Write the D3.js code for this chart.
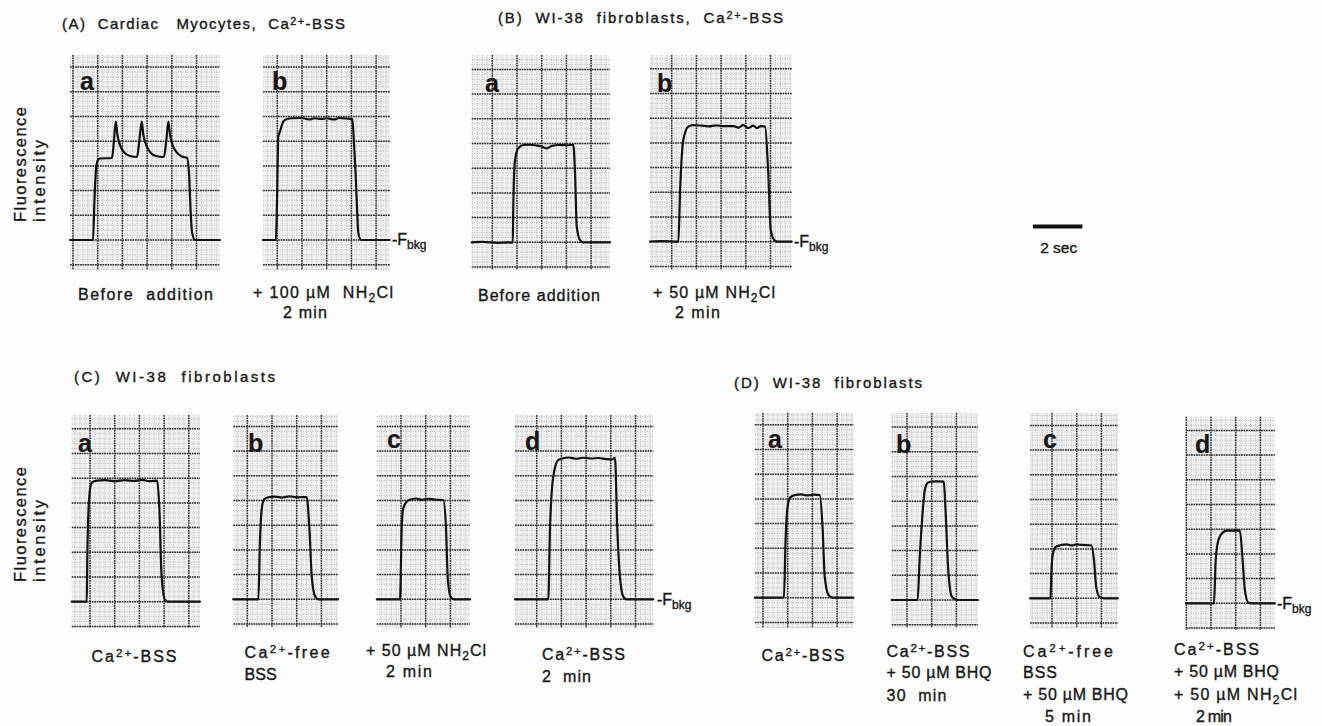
<!DOCTYPE html>
<html>
<head>
<meta charset="utf-8">
<script src="https://cdn.jsdelivr.net/npm/d3@7"></script>
<style>
  html, body { margin: 0; padding: 0; background: #fff; }
  svg { display: block; font-family: "Liberation Sans", Arial, Helvetica, sans-serif; }
  text { white-space: pre; fill: #161616; stroke: #161616; stroke-width: 0.35px; }
</style>
</head>
<body>
<div id="chart"></div>
<script>
const WIDTH = 1322;
const HEIGHT = 726;
const DIV = 24.7; // px per major chart-paper division (1 s across, 1 unit up)

// Recorder traces: [time (s) from first major line, fluorescence above Fbkg (divisions)]
const traceAa = [[-0.12,0],[0.81,0],[0.87,1.62],[0.93,2.83],[1.01,3.24],[1.09,3.30],[1.58,3.32],[1.66,4.05],[1.73,4.79],[1.80,4.25],[1.90,3.85],[2.06,3.56],[2.31,3.40],[2.59,3.36],[2.69,4.05],[2.78,4.79],[2.85,4.25],[2.96,3.85],[3.12,3.56],[3.36,3.40],[3.68,3.36],[3.78,4.05],[3.86,4.79],[3.93,4.25],[4.03,3.85],[4.19,3.56],[4.41,3.38],[4.62,3.32],[4.70,2.63],[4.76,1.21],[4.82,0.32],[4.94,0],[5.95,0]];
const traceAb = [[-0.58,0],[-0.06,0],[-0.01,1.62],[0.04,4.18],[0.11,4.40],[0.24,4.79],[0.39,4.90],[0.6,4.93],[1.0,4.94],[1.3,4.88],[1.5,4.93],[1.8,4.90],[2.0,4.93],[2.3,4.88],[2.5,4.94],[2.8,4.92],[3.04,4.90],[3.10,4.0],[3.17,2.71],[3.24,1.0],[3.28,0.3],[3.39,0],[4.56,0]];
const traceBa = [[-0.83,0],[-0.4,0.02],[0.2,-0.02],[0.83,0],[0.85,1.44],[0.92,3.33],[1.05,3.81],[1.26,3.94],[1.5,3.95],[1.8,3.92],[2.0,3.88],[2.2,3.80],[2.4,3.90],[2.7,3.94],[3.0,3.93],[3.28,3.95],[3.35,2.79],[3.42,0.63],[3.55,0.09],[3.68,0],[4.77,0]];
const traceBb = [[-0.88,0],[-0.4,0.02],[0.27,0],[0.34,2.09],[0.47,4.12],[0.67,4.66],[0.87,4.72],[1.2,4.70],[1.5,4.67],[1.8,4.71],[2.1,4.68],[2.5,4.68],[2.7,4.62],[2.9,4.72],[3.1,4.60],[3.3,4.70],[3.45,4.60],[3.6,4.68],[3.78,4.66],[3.91,2.77],[4.01,0.47],[4.18,0.04],[4.3,0],[4.86,0]];
const traceCa = [[-0.74,0],[-0.13,0],[-0.11,1.69],[-0.03,4.25],[0.07,4.82],[0.27,4.90],[0.6,4.92],[1.0,4.88],[1.4,4.92],[1.8,4.89],[2.1,4.93],[2.4,4.88],[2.72,4.90],[2.81,3.71],[2.9,1.01],[3.04,0.07],[3.17,0],[4.45,0]];
const traceCb = [[-0.57,0],[0.45,0],[0.51,2.27],[0.58,3.62],[0.68,4.05],[0.85,4.13],[1.1,4.16],[1.4,4.12],[1.7,4.17],[2.0,4.13],[2.4,4.14],[2.51,2.94],[2.61,0.92],[2.74,0.13],[2.87,0],[3.68,0]];
const traceCc = [[-0.98,0],[-0.04,0],[0.03,2.94],[0.09,3.68],[0.23,3.95],[0.43,4.05],[0.6,4.08],[0.85,4.03],[1.1,4.07],[1.35,4.04],[1.71,4.02],[1.82,2.94],[1.89,0.92],[2.01,0.1],[2.16,0],[2.8,0]];
const traceCd = [[-0.88,0],[0.47,0],[0.54,2.94],[0.67,4.96],[0.87,5.64],[1.08,5.71],[1.3,5.74],[1.6,5.69],[1.9,5.73],[2.2,5.70],[2.5,5.72],[2.8,5.68],[3.05,5.66],[3.17,5.73],[3.26,2.94],[3.37,0.92],[3.51,0.1],[3.64,0],[4.72,0]];
const traceDa = [[-0.33,0],[0.85,0],[0.91,2.2],[0.98,3.55],[1.10,4.06],[1.33,4.16],[1.55,4.18],[1.8,4.14],[2.05,4.17],[2.30,4.15],[2.41,2.87],[2.5,0.85],[2.65,0.11],[2.83,0],[3.66,0]];
const traceDb = [[-0.62,0],[0.43,0],[0.51,1.62],[0.62,3.37],[0.72,4.45],[0.84,4.75],[0.99,4.79],[1.2,4.80],[1.49,4.79],[1.56,3.64],[1.67,1.21],[1.82,0.13],[2.04,0],[2.87,0]];
const traceDc = [[-0.89,0],[-0.06,0],[-0.02,1.15],[0.04,1.82],[0.16,2.09],[0.39,2.16],[0.6,2.18],[0.8,2.14],[1.0,2.18],[1.2,2.16],[1.59,2.14],[1.70,1.55],[1.79,0.47],[1.94,0.04],[2.12,0],[2.67,0]];
const traceDd = [[-1.01,0],[0.12,0],[0.19,1.75],[0.30,2.56],[0.47,2.86],[0.65,2.94],[1.17,2.94],[1.28,1.75],[1.37,0.54],[1.52,0.02],[1.70,0],[2.59,0]];

// caption lines ("^{}" superscript, "_{}" subscript)
const captionAa = ["Before  addition"];
const captionAb = ["+ 100 µM  NH_{2}Cl", "2 min"];
const captionBa = ["Before addition"];
const captionBb = ["+ 50 µM NH_{2}Cl", "2 min"];
const captionCa = ["Ca^{2+}-BSS"];
const captionCb = ["Ca^{2+}-free", "BSS"];
const captionCc = ["+ 50 µM NH_{2}Cl", "2 min"];
const captionCd = ["Ca^{2+}-BSS", "2  min"];
const captionDa = ["Ca^{2+}-BSS"];
const captionDb = ["Ca^{2+}-BSS", "+ 50 µM BHQ", "30  min"];
const captionDc = ["Ca^{2+}-free", "BSS", "+ 50 µM BHQ", "5 min"];
const captionDd = ["Ca^{2+}-BSS", "+ 50 µM BHQ", "+ 50 µM NH_{2}Cl", "2 min"];

const sectionTitles = [
  "(A)  Cardiac   Myocytes,  Ca^{2+}-BSS",
  "(B)  WI-38  fibroblasts,  Ca^{2+}-BSS",
  "(C)  WI-38  fibroblasts",
  "(D)  WI-38  fibroblasts",
];
const axisLabelLines = ["Fluorescence", "intensity"];
const bkgLabel = "-F_{bkg}";
const scaleBarSeconds = 2;
const scaleBarLabel = "2 sec";

const panels = [
  { id: "Aa", letter: "a", trace: traceAa, caption: captionAa },
  { id: "Ab", letter: "b", trace: traceAb, caption: captionAb },
  { id: "Ba", letter: "a", trace: traceBa, caption: captionBa },
  { id: "Bb", letter: "b", trace: traceBb, caption: captionBb },
  { id: "Ca", letter: "a", trace: traceCa, caption: captionCa },
  { id: "Cb", letter: "b", trace: traceCb, caption: captionCb },
  { id: "Cc", letter: "c", trace: traceCc, caption: captionCc },
  { id: "Cd", letter: "d", trace: traceCd, caption: captionCd },
  { id: "Da", letter: "a", trace: traceDa, caption: captionDa },
  { id: "Db", letter: "b", trace: traceDb, caption: captionDb },
  { id: "Dc", letter: "c", trace: traceDc, caption: captionDc },
  { id: "Dd", letter: "d", trace: traceDd, caption: captionDd },
];

// page layout: paper box [x0,x1,y0,y1], grid origin (gx,gy), letter pos, caption lines [x, baseline, width]
const layout = {
  Aa: { box: [70, 220, 55, 270], gx: 73, gy: 240, letter: [80, 90], cap: [[78, 300, 135]] },
  Ab: { box: [263, 390, 55, 270], gx: 277.3, gy: 240, letter: [272, 90], cap: [[253, 298, 140], [283, 318, 44]], bkg: [392, 245] },
  Ba: { box: [471.7, 610, 55, 270], gx: 492.3, gy: 242.3, letter: [485, 92], cap: [[478, 301, 122]] },
  Bb: { box: [650, 791.7, 55, 270], gx: 671.7, gy: 241.7, letter: [657, 92], cap: [[653, 298, 122], [675, 318, 45]], bkg: [794, 247] },
  Ca: { box: [71.7, 200, 415, 628], gx: 90, gy: 601.7, letter: [78, 452], cap: [[91.5, 662, 85]] },
  Cb: { box: [233.3, 338.3, 415, 627], gx: 247.3, gy: 599.3, letter: [248, 452], cap: [[244.6, 658, 85], [244.6, 680, 32]] },
  Cc: { box: [376.7, 470, 415, 628], gx: 401, gy: 599.3, letter: [387, 448], cap: [[366, 656, 120], [386, 677, 46]] },
  Cd: { box: [515, 653.3, 415, 628], gx: 536.7, gy: 599.3, letter: [525, 450], cap: [[542, 660, 83], [542, 682, 49]], bkg: [657, 605] },
  Da: { box: [754.9, 853.4, 413, 628], gx: 763, gy: 597.7, letter: [768, 448], cap: [[761.5, 661, 83]] },
  Db: { box: [891.7, 977.9, 413, 628], gx: 907, gy: 600, letter: [896, 453], cap: [[886.5, 657, 83], [886.5, 678, 105], [886.5, 701, 60]] },
  Dc: { box: [1030, 1118, 413, 628], gx: 1052, gy: 598.3, letter: [1043, 448], cap: [[1023, 657, 90], [1023, 678, 34], [1023, 700, 105], [1045, 722, 46]] },
  Dd: { box: [1186, 1275, 416.7, 630], gx: 1211, gy: 603.3, letter: [1195, 453], cap: [[1174, 655, 85], [1174, 677, 105], [1174, 700, 123], [1196, 722, 36]], bkg: [1277, 609] },
};
const titlePos = [[62, 29, 283], [498, 23, 285], [74, 382, 201], [734, 388, 188]];
const axisLabelPos = [222, 582];

function richText(textSel, str, size) {
  const parts = str.split(/(\^\{[^}]*\}|_\{[^}]*\})/).filter((p) => p.length);
  let shift = 0;
  parts.forEach((part) => {
    let content = part;
    let target = 0;
    let fontSize = size;
    if (part.startsWith("^{")) {
      content = part.slice(2, -1);
      target = -0.3 * size;
      fontSize = size * 0.72;
    } else if (part.startsWith("_{")) {
      content = part.slice(2, -1);
      target = 0.26 * size;
      fontSize = size * 0.75;
    }
    textSel
      .append("tspan")
      .attr("dy", target - shift)
      .style("font-size", `${fontSize}px`)
      .text(content);
    shift = target;
  });
}

const svg = d3
  .select("#chart")
  .append("svg")
  .attr("width", WIDTH)
  .attr("height", HEIGHT)
  .attr("viewBox", [0, 0, WIDTH, HEIGHT]);

svg.append("rect").attr("width", WIDTH).attr("height", HEIGHT).attr("fill", "#fdfdfd");

const line = d3.line().curve(d3.curveMonotoneX);

panels.forEach((panel) => {
  const L = layout[panel.id];
  const [x0, x1, y0, y1] = L.box;
  const x = d3.scaleLinear().domain([0, 1]).range([L.gx, L.gx + DIV]);
  const y = d3.scaleLinear().domain([0, 1]).range([L.gy, L.gy - DIV]);
  const tMin = x.invert(x0);
  const tMax = x.invert(x1);
  const fMin = y.invert(y1);
  const fMax = y.invert(y0);

  const g = svg.append("g").attr("class", `panel panel-${panel.id}`);

  g.append("rect")
    .attr("x", x0)
    .attr("y", y0)
    .attr("width", x1 - x0)
    .attr("height", y1 - y0)
    .attr("fill", "#f0f0f0");

  const steps = (lo, hi) =>
    d3.range(Math.ceil(lo * 5 - 1e-6), Math.floor(hi * 5 + 1e-6) + 1).map((k) => k / 5);
  const minorT = steps(tMin, tMax).filter((t) => Math.abs(t - Math.round(t)) > 1e-6);
  const minorF = steps(fMin, fMax).filter((f) => Math.abs(f - Math.round(f)) > 1e-6);
  const majorT = d3.range(Math.ceil(tMin), Math.floor(tMax) + 1);
  const majorF = d3.range(Math.ceil(fMin), Math.floor(fMax) + 1);

  const minor = g.append("g")
    .attr("stroke", "#a0a0a0")
    .attr("stroke-width", 0.7)
    .attr("stroke-dasharray", "0.9 1.5");
  minor.selectAll("line.vt").data(minorT).join("line")
    .attr("x1", (t) => x(t)).attr("x2", (t) => x(t)).attr("y1", y0).attr("y2", y1);
  minor.selectAll("line.hf").data(minorF).join("line")
    .attr("y1", (f) => y(f)).attr("y2", (f) => y(f)).attr("x1", x0).attr("x2", x1);

  const major = g.append("g")
    .attr("stroke", "#2e2e2e")
    .attr("stroke-width", 1.5)
    .attr("stroke-dasharray", "1.8 0.7");
  major.selectAll("line.vt").data(majorT).join("line")
    .attr("x1", (t) => x(t)).attr("x2", (t) => x(t)).attr("y1", y0).attr("y2", y1);
  major.selectAll("line.hf").data(majorF).join("line")
    .attr("y1", (f) => y(f)).attr("y2", (f) => y(f)).attr("x1", x0).attr("x2", x1);

  g.append("path")
    .datum(panel.trace)
    .attr("fill", "none")
    .attr("stroke", "#111")
    .attr("stroke-width", 2.2)
    .attr("stroke-linejoin", "round")
    .attr("stroke-linecap", "round")
    .attr("d", line.x((d) => x(d[0])).y((d) => y(d[1])));

  g.append("text")
    .attr("x", L.letter[0])
    .attr("y", L.letter[1])
    .style("font-size", "25px")
    .style("font-weight", "bold")
    .style("stroke-width", "0.2px")
    .text(panel.letter);

  panel.caption.forEach((str, i) => {
    const [cx, cy, cw] = L.cap[i];
    const t = g.append("text")
      .attr("x", cx)
      .attr("y", cy)
      .attr("textLength", cw)
      .attr("lengthAdjust", "spacing")
      .style("font-size", "16px");
    richText(t, str, 16);
  });

  if (L.bkg) {
    const t = g.append("text")
      .attr("x", L.bkg[0])
      .attr("y", L.bkg[1])
      .style("font-size", "16px");
    richText(t, bkgLabel, 16);
  }
});

// section titles
sectionTitles.forEach((str, i) => {
  const [tx, ty, tw] = titlePos[i];
  const t = svg.append("text")
    .attr("x", tx)
    .attr("y", ty)
    .attr("textLength", tw)
    .attr("lengthAdjust", "spacing")
    .style("font-size", "15px");
  richText(t, str, 15);
});

// rotated y labels
axisLabelPos.forEach((by) => {
  axisLabelLines.forEach((str, i) => {
    svg.append("text")
      .attr("transform", `translate(${i === 0 ? 26 : 45},${by}) rotate(-90)`)
      .attr("textLength", i === 0 ? 115 : 82)
      .attr("lengthAdjust", "spacing")
      .style("font-size", "16.5px")
      .text(str);
  });
});

// time scale bar
const barScale = d3.scaleLinear().domain([0, 1]).range([1033, 1033 + DIV]);
svg.append("line")
  .attr("x1", barScale(0))
  .attr("x2", barScale(scaleBarSeconds))
  .attr("y1", 226.5)
  .attr("y2", 226.5)
  .attr("stroke", "#111")
  .attr("stroke-width", 4);
svg.append("text")
  .attr("x", (barScale(0) + barScale(scaleBarSeconds)) / 2 + 1)
  .attr("y", 253)
  .attr("text-anchor", "middle")
  .style("font-size", "15.5px")
  .text(scaleBarLabel);
</script>
</body>
</html>
